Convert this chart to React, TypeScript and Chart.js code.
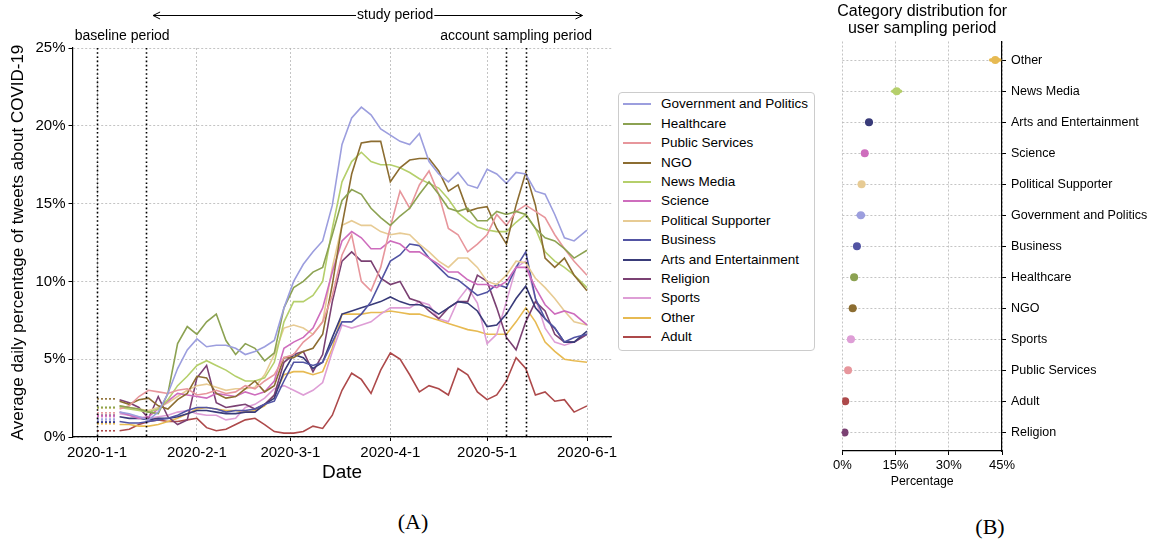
import React, { useEffect, useRef } from 'react';
import { Chart, registerables } from 'chart.js';

Chart.register(...registerables);

const FONT = '"Liberation Sans", Arial, Helvetica, sans-serif';
const SERIF = '"Liberation Serif", "Times New Roman", serif';

// ---------- Panel A data ----------
const categories = [
  'Government and Politics', 'Healthcare', 'Public Services', 'NGO', 'News Media', 'Science',
  'Political Supporter', 'Business', 'Arts and Entertainment', 'Religion', 'Sports', 'Other', 'Adult',
];
const colors = [
  '#9c9ede', '#8ca252', '#e7969c', '#8c6d31', '#b5cf6b', '#ce6dbd',
  '#e7cb94', '#5254a3', '#393b79', '#7b4173', '#de9ed6', '#e7ba52', '#ad494a',
];
// days since 2020-01-01
const days = [7, 10, 13, 16, 19, 22, 25, 28, 31, 34, 37, 40, 43, 46, 49, 52, 55, 58, 61, 64, 67, 70, 73, 76, 79, 82, 85, 88, 91, 94, 97, 100, 103, 106, 109, 112, 115, 118, 121, 124, 127, 130, 133, 136, 139, 142, 145, 148, 152];

const govPolitics = [1.6, 1.5, 1.3, 1.1, 1.6, 2.8, 4.4, 5.6, 6.3, 5.8, 5.9, 5.9, 5.7, 5.3, 5.5, 5.8, 6.2, 8.3, 10.0, 11.1, 11.9, 12.6, 14.9, 18.8, 20.5, 21.2, 20.7, 19.8, 19.4, 19.0, 18.8, 19.5, 17.7, 16.9, 16.4, 17.0, 16.2, 16.0, 17.2, 16.9, 16.3, 17.0, 16.9, 15.8, 15.6, 14.3, 12.8, 12.6, 13.3];
const healthcare = [2.0, 1.9, 1.8, 1.6, 1.5, 2.8, 6.0, 7.1, 6.6, 7.4, 7.9, 6.2, 5.3, 6.0, 5.7, 4.9, 5.4, 8.3, 9.6, 10.0, 10.6, 10.9, 13.0, 15.2, 15.9, 15.6, 14.7, 14.1, 13.6, 14.2, 14.7, 15.6, 16.4, 15.6, 14.7, 14.5, 14.7, 13.9, 13.9, 14.5, 14.3, 14.5, 14.3, 13.4, 12.8, 12.6, 12.1, 11.5, 12.0];
const publicServices = [1.8, 2.0, 2.6, 3.0, 2.9, 2.8, 3.0, 3.1, 2.7, 2.8, 3.0, 2.8, 2.9, 3.3, 3.1, 3.6, 4.0, 5.1, 5.3, 6.1, 6.6, 7.4, 9.1, 11.7, 13.0, 10.0, 9.4, 10.9, 13.5, 15.8, 14.7, 16.2, 17.1, 15.6, 13.4, 13.0, 11.9, 12.4, 13.0, 14.3, 13.6, 14.5, 14.9, 14.5, 14.1, 13.0, 12.1, 11.3, 10.4];
const ngo = [2.3, 2.1, 2.4, 2.5, 2.0, 1.8, 2.4, 2.8, 3.9, 3.8, 2.8, 2.5, 2.6, 3.1, 3.6, 2.9, 3.3, 5.1, 5.1, 5.5, 5.7, 6.6, 9.8, 13.6, 16.9, 18.9, 19.0, 19.0, 16.4, 17.3, 17.8, 17.9, 17.9, 17.1, 15.8, 16.2, 14.5, 14.7, 14.8, 13.4, 12.4, 14.9, 17.0, 14.9, 11.5, 10.9, 11.5, 10.4, 9.4];
const newsMedia = [1.9, 1.8, 1.7, 1.6, 1.8, 2.4, 3.3, 3.9, 4.6, 4.9, 4.6, 4.3, 3.9, 3.6, 3.6, 3.8, 4.8, 7.4, 8.7, 8.7, 9.1, 10.0, 13.4, 16.4, 17.7, 18.3, 17.7, 17.5, 17.5, 17.3, 17.0, 16.6, 16.3, 16.0, 15.3, 14.4, 13.9, 13.5, 13.3, 13.2, 13.2, 13.8, 14.3, 13.4, 11.9, 11.3, 10.9, 10.4, 9.6];
const science = [1.6, 1.4, 1.2, 1.3, 1.8, 2.3, 2.8, 2.7, 2.6, 2.5, 2.8, 2.7, 2.6, 2.9, 2.7, 2.9, 3.6, 5.7, 6.1, 6.4, 7.0, 8.3, 10.6, 12.6, 13.2, 12.8, 12.1, 12.1, 12.6, 12.4, 11.9, 11.9, 11.5, 11.1, 10.6, 10.6, 10.1, 9.8, 9.8, 9.6, 10.0, 10.9, 10.9, 9.6, 8.5, 7.9, 8.1, 7.9, 7.2];
const politicalSupporter = [2.0, 1.9, 1.8, 1.7, 1.9, 2.2, 2.6, 3.0, 3.3, 3.4, 3.2, 3.0, 3.1, 3.1, 3.2, 4.0, 5.3, 7.0, 7.2, 7.0, 6.6, 7.4, 10.9, 13.6, 13.9, 13.6, 13.6, 13.2, 13.0, 13.1, 13.0, 12.4, 11.9, 11.3, 10.9, 11.5, 11.5, 10.9, 10.0, 9.8, 10.4, 11.3, 11.2, 10.2, 9.6, 8.9, 8.1, 7.4, 7.2];
const business = [1.0, 0.9, 0.9, 1.0, 1.1, 1.2, 1.4, 1.7, 1.9, 1.9, 1.8, 1.6, 1.7, 1.7, 1.8, 2.1, 2.3, 3.6, 4.8, 4.8, 4.6, 4.8, 6.1, 7.4, 7.4, 7.9, 8.7, 10.0, 11.3, 11.7, 12.4, 12.3, 11.5, 10.9, 10.3, 10.1, 9.6, 9.1, 9.3, 9.8, 9.6, 10.9, 11.9, 8.9, 7.6, 7.0, 6.1, 6.4, 6.6];
const artsEntertainment = [1.3, 1.2, 1.2, 1.1, 1.2, 1.2, 1.3, 1.5, 1.7, 1.7, 1.6, 1.5, 1.5, 1.6, 1.6, 2.1, 2.5, 4.2, 5.3, 5.1, 4.4, 4.8, 6.4, 7.9, 8.1, 8.3, 8.5, 8.7, 9.0, 8.7, 8.5, 8.5, 8.3, 7.9, 8.3, 8.7, 8.6, 8.1, 7.1, 7.2, 7.9, 8.9, 9.7, 8.3, 7.6, 7.0, 6.1, 6.1, 6.8];
const religion = [2.4, 2.2, 1.9, 1.2, 2.6, 1.3, 0.8, 1.1, 3.8, 4.6, 2.2, 1.9, 2.0, 2.1, 1.8, 2.1, 2.7, 4.8, 5.3, 5.5, 4.2, 5.3, 8.7, 11.3, 11.9, 11.3, 11.3, 10.2, 9.8, 10.0, 8.9, 8.7, 8.1, 7.6, 8.3, 8.7, 8.7, 10.4, 10.0, 8.3, 6.4, 5.6, 7.4, 8.7, 8.1, 6.6, 6.1, 6.1, 6.6];
const sports = [1.5, 1.4, 1.3, 1.2, 1.3, 1.4, 1.6, 1.7, 1.5, 1.4, 1.4, 1.1, 1.2, 1.9, 2.1, 2.5, 3.1, 3.3, 3.0, 2.7, 3.0, 3.5, 5.5, 7.2, 7.0, 7.2, 7.4, 7.9, 8.3, 8.3, 8.3, 8.7, 8.5, 7.6, 7.4, 8.8, 9.6, 8.6, 6.0, 6.6, 8.7, 10.9, 11.3, 8.9, 7.0, 6.1, 5.9, 6.1, 6.6];
const other = [0.8, 0.8, 0.7, 0.7, 0.8, 1.0, 1.2, 1.5, 1.8, 1.9, 1.8, 1.7, 1.7, 1.6, 1.7, 2.0, 2.7, 4.0, 4.2, 4.2, 4.0, 4.2, 5.7, 7.9, 7.9, 7.9, 8.0, 8.0, 8.1, 8.0, 7.9, 7.9, 7.7, 7.5, 7.3, 7.1, 6.9, 6.8, 6.6, 6.6, 6.6, 7.4, 8.3, 7.4, 6.1, 5.5, 5.0, 4.9, 4.8];
const adult = [0.4, 0.5, 0.8, 1.0, 1.1, 1.0, 1.0, 1.1, 1.2, 0.6, 0.4, 0.5, 0.8, 1.1, 1.2, 0.8, 0.35, 0.25, 0.25, 0.35, 0.7, 0.55, 1.4, 3.0, 4.1, 3.7, 2.8, 4.3, 5.4, 5.0, 4.0, 2.9, 3.3, 3.1, 2.7, 4.4, 4.0, 2.9, 2.4, 2.7, 3.6, 5.1, 4.4, 2.7, 2.9, 2.3, 2.4, 1.6, 2.0];

// baseline-period averages (dotted stubs)
const baselineValues = [1.15, 1.9, 1.55, 2.45, 1.9, 1.35, 1.85, 1.0, 0.95, 1.4, 1.3, 0.85, 0.4];
const baselineSpan = [0, 6];

const xTickDays = [0, 31, 60, 91, 121, 152];
const xTickLabels = ['2020-1-1', '2020-2-1', '2020-3-1', '2020-4-1', '2020-5-1', '2020-6-1'];
const periodLineDays = [0, 15.2, 127, 133];
const studyArrowDays = [17.4, 150.6];
const studyLabelDay = 92.5;
const baselineLabelDay = 7.8;
const samplingLabelDay = 130;

// ---------- Panel B data ----------
const samplingCategories = [
  'Other', 'News Media', 'Arts and Entertainment', 'Science', 'Political Supporter',
  'Government and Politics', 'Business', 'Healthcare', 'NGO', 'Sports', 'Public Services', 'Adult', 'Religion',
];
const samplingShare = [43.1, 15.3, 7.5, 6.3, 5.4, 5.2, 4.1, 3.3, 2.9, 2.4, 1.6, 0.8, 0.6];
const samplingErr = [1.3, 1.1, 0.6, 0.5, 0.6, 0.8, 0.5, 0.5, 0.6, 0.6, 0.4, 0.4, 0.4];
const samplingTicks = [0, 15, 30, 45];

const seriesList = [govPolitics, healthcare, publicServices, ngo, newsMedia, science, politicalSupporter, business, artsEntertainment, religion, sports, other, adult];

function LeftChart() {
  const ref = useRef<HTMLCanvasElement>(null);
  useEffect(() => {
    if (!ref.current) return;
    const lines = seriesList.map((vals, i) => ({
      label: categories[i],
      data: days.map((d, j) => ({ x: d, y: vals[j] })),
      borderColor: colors[i],
      backgroundColor: colors[i],
      borderWidth: 1.6,
      pointRadius: 0,
      tension: 0,
      fill: false,
    }));
    const stubs = baselineValues.map((v, i) => ({
      label: categories[i] + ' baseline',
      data: baselineSpan.map((d) => ({ x: d, y: v })),
      borderColor: colors[i],
      borderWidth: 1.6,
      borderDash: [2, 2],
      pointRadius: 0,
      fill: false,
    }));

    const periods = {
      id: 'periods',
      afterDatasetsDraw(chart: any) {
        const { ctx, chartArea, scales } = chart;
        const x = scales.x;
        ctx.save();
        ctx.strokeStyle = '#000';
        ctx.lineWidth = 1.6;
        ctx.setLineDash([1.6, 2.6]);
        periodLineDays.forEach((d) => {
          const px = Math.round(x.getPixelForValue(d)) + 0.5;
          ctx.beginPath();
          ctx.moveTo(px, chartArea.top);
          ctx.lineTo(px, chartArea.bottom);
          ctx.stroke();
        });
        ctx.setLineDash([]);
        ctx.fillStyle = '#000';
        ctx.font = `14px ${FONT}`;
        ctx.textAlign = 'center';
        ctx.textBaseline = 'middle';
        ctx.fillText('baseline period', x.getPixelForValue(baselineLabelDay), 36);
        ctx.fillText('account sampling period', x.getPixelForValue(samplingLabelDay), 36);
        const tx = x.getPixelForValue(studyLabelDay);
        const ty = 15;
        ctx.fillText('study period', tx, ty);
        const w = ctx.measureText('study period').width;
        const x0 = x.getPixelForValue(studyArrowDays[0]);
        const x1 = x.getPixelForValue(studyArrowDays[1]);
        ctx.lineWidth = 1;
        ctx.beginPath();
        ctx.moveTo(x0, ty + 0.5);
        ctx.lineTo(tx - w / 2 - 1, ty + 0.5);
        ctx.moveTo(tx + w / 2 + 1, ty + 0.5);
        ctx.lineTo(x1, ty + 0.5);
        ctx.moveTo(x0 + 7, ty - 3);
        ctx.lineTo(x0, ty + 0.5);
        ctx.lineTo(x0 + 7, ty + 4);
        ctx.moveTo(x1 - 7, ty - 3);
        ctx.lineTo(x1, ty + 0.5);
        ctx.lineTo(x1 - 7, ty + 4);
        ctx.stroke();
        ctx.restore();
      },
    };

    const gridOpts: any = {
      color: '#b5b5b5',
      lineWidth: 0.8,
      drawTicks: true,
      tickLength: 4,
      tickColor: '#000',
      tickWidth: 1,
      tickBorderDash: [],
    };

    const chart = new Chart(ref.current, {
      type: 'line',
      data: { datasets: [...lines, ...stubs] as any },
      options: {
        animation: false,
        responsive: false,
        maintainAspectRatio: false,
        layout: { padding: { left: 0, right: 13.5, top: 48, bottom: 0 } },
        plugins: { legend: { display: false }, tooltip: { enabled: false } },
        scales: {
          x: {
            type: 'linear',
            min: -7.6,
            max: 159.6,
            afterBuildTicks: (s: any) => {
              s.ticks = xTickDays.map((v) => ({ value: v }));
            },
            afterFit: (s: any) => {
              s.height = 63;
            },
            ticks: {
              autoSkip: false,
              maxRotation: 0,
              color: '#000',
              padding: 3,
              font: { family: FONT, size: 15 },
              callback: (_v: any, i: number) => xTickLabels[i],
            },
            grid: gridOpts,
            border: { display: true, color: '#000', width: 1.2, dash: [2, 2] },
            title: {
              display: true,
              text: 'Date',
              color: '#000',
              font: { family: FONT, size: 19 },
              padding: { top: 0, bottom: 15.6 },
            },
          },
          y: {
            min: 0,
            max: 25,
            afterFit: (s: any) => {
              s.width = 72.5;
            },
            ticks: {
              stepSize: 5,
              color: '#000',
              padding: 3,
              font: { family: FONT, size: 15 },
              callback: (v: any) => `${v}%`,
            },
            grid: gridOpts,
            border: { display: true, color: '#000', width: 1.2, dash: [2, 2] },
            title: {
              display: true,
              text: 'Average daily percentage of tweets about COVID-19',
              color: '#000',
              font: { family: FONT, size: 17 },
              padding: { top: 7.8, bottom: 0 },
            },
          },
        },
      },
      plugins: [periods],
    });
    return () => chart.destroy();
  }, []);
  return <canvas ref={ref} width={625} height={500} style={{ position: 'absolute', left: 0, top: 0, width: 625, height: 500 }} />;
}

function RightChart() {
  const ref = useRef<HTMLCanvasElement>(null);
  useEffect(() => {
    if (!ref.current) return;
    const colorOf = (name: string) => colors[categories.indexOf(name)];
    const pointColors = samplingCategories.map(colorOf);

    const extras = {
      id: 'extras',
      beforeDatasetsDraw(chart: any) {
        const { ctx, scales } = chart;
        const x = scales.x;
        const y = scales.y;
        ctx.save();
        ctx.lineWidth = 3.5;
        ctx.lineCap = 'round';
        samplingShare.forEach((v, i) => {
          ctx.strokeStyle = pointColors[i];
          const py = y.getPixelForValue(i);
          ctx.beginPath();
          ctx.moveTo(x.getPixelForValue(v - samplingErr[i]), py);
          ctx.lineTo(x.getPixelForValue(v + samplingErr[i]), py);
          ctx.stroke();
        });
        ctx.restore();
      },
      afterDraw(chart: any) {
        const { ctx, chartArea } = chart;
        ctx.save();
        ctx.fillStyle = '#000';
        ctx.font = `16px ${FONT}`;
        ctx.textAlign = 'center';
        ctx.textBaseline = 'middle';
        const cx = (chartArea.left + chartArea.right) / 2;
        ctx.fillText('Category distribution for', cx, 12);
        ctx.fillText('user sampling period', cx, 29);
        ctx.restore();
      },
    };

    const gridOpts: any = {
      color: '#b5b5b5',
      lineWidth: 0.8,
      drawTicks: true,
      tickLength: 4,
      tickColor: '#000',
      tickWidth: 1,
      tickBorderDash: [],
    };

    const chart = new Chart(ref.current, {
      type: 'scatter',
      data: {
        datasets: [
          {
            label: 'Category distribution',
            data: samplingShare.map((v, i) => ({ x: v, y: i })),
            pointBackgroundColor: pointColors,
            pointBorderColor: pointColors,
            pointBorderWidth: 0,
            pointRadius: 4,
          },
        ],
      },
      options: {
        animation: false,
        responsive: false,
        maintainAspectRatio: false,
        layout: { padding: { left: 10.2, right: 0, top: 41.5, bottom: 0 } },
        plugins: { legend: { display: false }, tooltip: { enabled: false } },
        scales: {
          x: {
            type: 'linear',
            min: 0,
            max: 45,
            afterBuildTicks: (s: any) => {
              s.ticks = samplingTicks.map((v) => ({ value: v }));
            },
            afterFit: (s: any) => {
              s.height = 49;
            },
            ticks: {
              color: '#000',
              padding: 3,
              maxRotation: 0,
              font: { family: FONT, size: 13 },
              callback: (v: any) => `${v}%`,
            },
            grid: gridOpts,
            border: { display: true, color: '#000', width: 1.2, dash: [2, 2] },
            title: {
              display: true,
              text: 'Percentage',
              color: '#000',
              font: { family: FONT, size: 12.3 },
              padding: { top: 0, bottom: 10.9 },
            },
          },
          y: {
            type: 'linear',
            position: 'right',
            reverse: true,
            min: -0.6,
            max: 12.6,
            afterBuildTicks: (s: any) => {
              s.ticks = samplingCategories.map((_c, i) => ({ value: i }));
            },
            afterFit: (s: any) => {
              s.width = 149;
            },
            ticks: {
              autoSkip: false,
              color: '#000',
              padding: 5,
              font: { family: FONT, size: 12.5 },
              callback: (v: any) => samplingCategories[Math.round(v)],
            },
            grid: gridOpts,
            border: { display: true, color: '#000', width: 1.2, dash: [2, 2] },
          },
        },
      },
      plugins: [extras],
    });
    return () => chart.destroy();
  }, []);
  return <canvas ref={ref} width={321} height={500} style={{ position: 'absolute', left: 830, top: 0, width: 321, height: 500 }} />;
}

function Legend() {
  return (
    <div
      style={{
        position: 'absolute',
        left: 618,
        top: 92,
        width: 197,
        height: 259,
        boxSizing: 'border-box',
        border: '1px solid #cccccc',
        borderRadius: 4,
        background: '#fff',
      }}
    >
      {categories.map((c, i) => (
        <div
          key={c}
          style={{
            position: 'absolute',
            left: 0,
            top: 104 + i * 19.4 - 93 - 9.7,
            height: 19.4,
            width: 195,
            lineHeight: '19.4px',
            fontFamily: FONT,
            fontSize: 13.5,
            color: '#000',
            whiteSpace: 'nowrap',
          }}
        >
          <span
            style={{
              position: 'absolute',
              left: 4,
              top: 9,
              width: 28,
              height: 2,
              background: colors[i],
            }}
          />
          <span style={{ position: 'absolute', left: 42, top: 0 }}>{c}</span>
        </div>
      ))}
    </div>
  );
}

export default function App() {
  return (
    <div style={{ position: 'absolute', left: 0, top: 0, width: 1151, height: 544, background: '#fff', overflow: 'hidden' }}>
      <LeftChart />
      <Legend />
      <RightChart />
      <div style={{ position: 'absolute', left: 363, top: 508, width: 100, textAlign: 'center', fontFamily: SERIF, fontSize: 22, lineHeight: '28px', color: '#000' }}>(A)</div>
      <div style={{ position: 'absolute', left: 940, top: 513, width: 100, textAlign: 'center', fontFamily: SERIF, fontSize: 22, lineHeight: '28px', color: '#000' }}>(B)</div>
    </div>
  );
}
